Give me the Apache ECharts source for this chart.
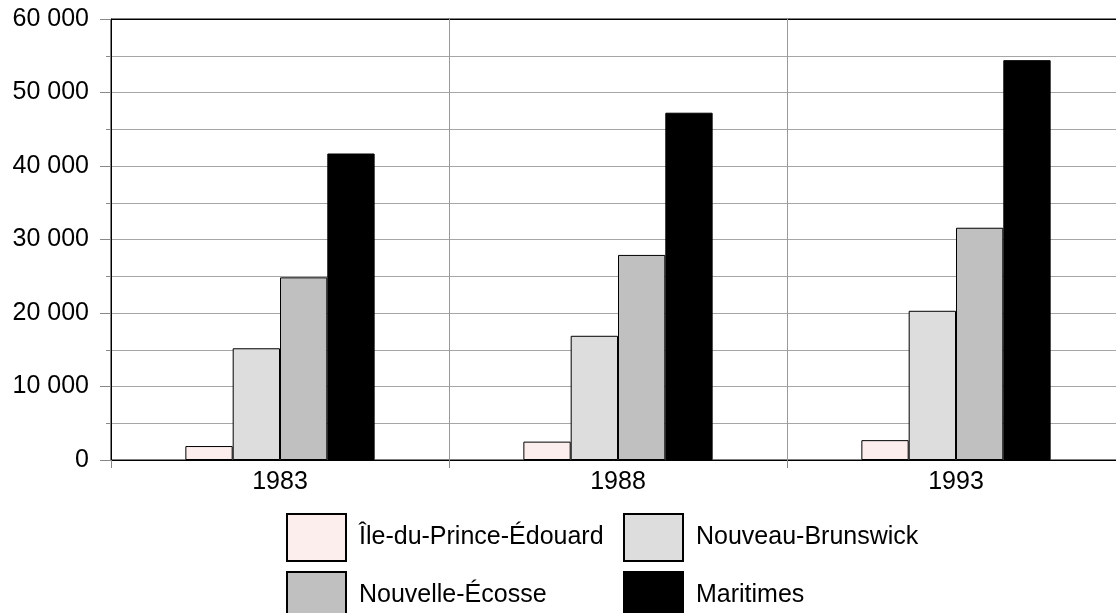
<!DOCTYPE html>
<html>
<head>
<meta charset="utf-8">
<script src="https://cdn.jsdelivr.net/npm/echarts@6/dist/echarts.min.js"></script>
<style>
  html, body { margin: 0; padding: 0; background: #fff; }
  #chart { width: 1116px; height: 613px; }
</style>
</head>
<body>
<div id="chart"></div>
<script>
// Years on the category axis
const years = ['1983', '1988', '1993'];

// Series names and values
const seriesNames = ['Île-du-Prince-Édouard', 'Nouveau-Brunswick', 'Nouvelle-Écosse', 'Maritimes'];
const ilePrinceEdouard = [1900, 2500, 2700];
const nouveauBrunswick = [15200, 16900, 20300];
const nouvelleEcosse = [24850, 27900, 31600];
const maritimes = [41700, 47250, 54400];

// Value-axis tick labels (space as thousands separator)
const yTickLabels = ['0', '10 000', '20 000', '30 000', '40 000', '50 000', '60 000'];

const seriesValues = [ilePrinceEdouard, nouveauBrunswick, nouvelleEcosse, maritimes];
const fills = ['#fdeeee', '#dddddd', '#c0c0c0', '#000000'];

const FONT = "'Liberation Sans', Arial, sans-serif";
const GRID_GRAY = '#a6a6a6';

const chart = echarts.init(document.getElementById('chart'), null, { renderer: 'canvas' });

// Two legend columns, each stacked vertically
const legendCommon = {
  top: 513,
  height: 120,
  padding: 0,
  orient: 'vertical',
  itemWidth: 59,
  itemHeight: 47,
  itemGap: 9,
  icon: 'rect',
  selectedMode: false,
  textStyle: {
    fontFamily: FONT,
    fontSize: 25,
    color: '#000',
    padding: [0, 0, 0, 8]
  }
};

chart.setOption({
  animation: false,
  backgroundColor: '#fff',
  grid: {
    left: 111,
    top: 19,
    width: 1014,
    height: 441,
    outerBoundsMode: 'none',
    show: true,
    borderColor: '#000',
    borderWidth: 1
  },
  legend: [
    Object.assign({}, legendCommon, { left: 286, data: [seriesNames[0], seriesNames[2]] }),
    Object.assign({}, legendCommon, { left: 623, data: [seriesNames[1], seriesNames[3]] })
  ],
  xAxis: {
    type: 'category',
    data: years,
    boundaryGap: true,
    axisLine: { show: true, lineStyle: { color: '#000', width: 1 } },
    axisTick: { show: true, length: 8, lineStyle: { color: '#888' } },
    axisLabel: { fontFamily: FONT, fontSize: 25, color: '#000', margin: 10 },
    splitLine: { show: true, lineStyle: { color: '#999', width: 1 } }
  },
  yAxis: {
    type: 'value',
    min: 0,
    max: 60000,
    interval: 10000,
    axisLine: { show: true, lineStyle: { color: '#000', width: 1 } },
    axisTick: { show: true, length: 11, lineStyle: { color: '#888' } },
    minorTick: { show: true, splitNumber: 2, length: 5, lineStyle: { color: '#888' } },
    axisLabel: {
      fontFamily: FONT,
      fontSize: 25,
      color: '#000',
      margin: 22,
      formatter: (v) => yTickLabels[Math.round(v / 10000)]
    },
    splitLine: {
      show: true,
      lineStyle: { color: [GRID_GRAY, GRID_GRAY, GRID_GRAY, GRID_GRAY, GRID_GRAY, GRID_GRAY, '#000'], width: 1 }
    },
    minorSplitLine: { show: true, lineStyle: { color: GRID_GRAY, width: 1 } }
  },
  series: seriesNames.map((name, i) => ({
    name: name,
    type: 'bar',
    data: seriesValues[i],
    barGap: '0%',
    barCategoryGap: '44%',
    itemStyle: { color: fills[i], borderColor: '#000', borderWidth: 1 },
    emphasis: { disabled: true }
  }))
});
</script>
</body>
</html>
